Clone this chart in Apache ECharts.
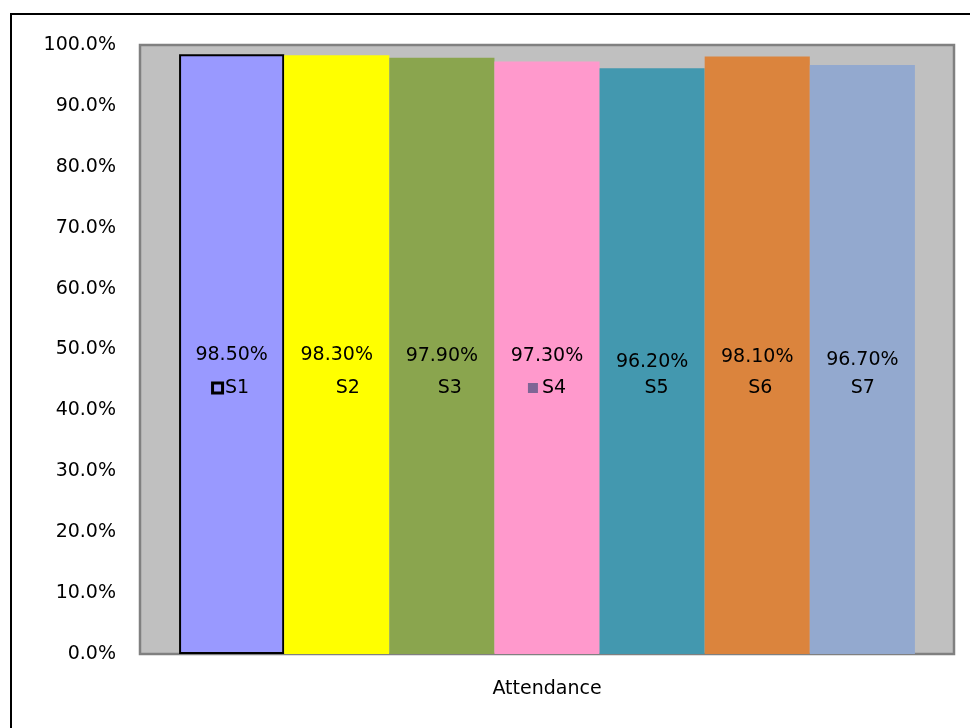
<!DOCTYPE html>
<html>
<head>
<meta charset="utf-8">
<script src="https://cdn.jsdelivr.net/npm/echarts@6/dist/echarts.min.js"></script>
<style>
html,body{margin:0;padding:0;background:#fff;}
#chart{width:970px;height:728px;}
</style>
</head>
<body>
<div id="chart"></div>
<script>
const categories = ['Attendance'];
const seriesNames = ['S1', 'S2', 'S3', 'S4', 'S5', 'S6', 'S7'];
const values = [0.985, 0.983, 0.979, 0.973, 0.962, 0.981, 0.967];
const valueLabels = ['98.50%', '98.30%', '97.90%', '97.30%', '96.20%', '98.10%', '96.70%'];

const colors = ['#9999FF', '#FFFF00', '#8AA54E', '#FF99CC', '#4398AF', '#DB843D', '#93A9CF'];
// legend-key styling inside the labels (visual styling only)
const keyFill = ['#9999FF', null, null, '#7F6595', null, null, null];
const keyBorder = ['#000000', null, null, null, null, null, null];
const spacer = [12, 22, 16, 13, 9, 6, 1];
const valueLineH = [36, 35, 34, 34, 22, 32, 26];

const FONT = 'DejaVu Sans';

const series = seriesNames.map((name, i) => {
  const hasKey = keyFill[i] !== null;
  const rich = {
    v: { fontFamily: FONT, fontSize: 19, color: '#000', lineHeight: valueLineH[i] },
    n: { fontFamily: FONT, fontSize: 19, color: '#000', lineHeight: 30 },
    k: hasKey ? {
      width: keyBorder[i] ? 7 : 10,
      height: keyBorder[i] ? 7 : 10,
      backgroundColor: keyFill[i],
      borderColor: keyBorder[i] || 'transparent',
      borderWidth: keyBorder[i] ? 3 : 0,
      lineHeight: 30
    } : { width: 0, height: 1, lineHeight: 30 },
    s: { width: hasKey ? 4 : spacer[i], height: 1, lineHeight: 30 }
  };
  return {
    name: name,
    type: 'bar',
    data: [values[i]],
    barGap: '0%',
    barCategoryGap: '9.6%',
    itemStyle: {
      color: colors[i],
      borderColor: i === 0 ? '#000' : colors[i],
      borderWidth: i === 0 ? 2 : 0
    },
    label: {
      show: true,
      position: 'insideBottom',
      distance: 251,
      align: 'center',
      formatter: () => '{v|' + valueLabels[i] + '}\n' + (hasKey ? '{k|}' : '') + '{s|}{n|' + name + '}',
      rich: rich
    }
  };
});

const chart = echarts.init(document.getElementById('chart'));
chart.setOption({
  backgroundColor: '#ffffff',
  animation: false,
  textStyle: { fontFamily: FONT },
  grid: {
    left: 140, right: 16, top: 45, bottom: 74,
    show: true,
    backgroundColor: '#C0C0C0',
    borderColor: '#808080',
    borderWidth: 2.5
  },
  xAxis: {
    type: 'category',
    data: categories,
    axisLine: { show: false },
    axisTick: { show: false },
    axisLabel: { fontFamily: FONT, fontSize: 19, color: '#000', margin: 26 },
    splitLine: { show: false }
  },
  yAxis: {
    type: 'value',
    min: 0, max: 1, interval: 0.1,
    axisLine: { show: false },
    axisTick: { show: false },
    splitLine: { show: false },
    axisLabel: {
      fontFamily: FONT, fontSize: 19, color: '#000', margin: 24,
      formatter: v => (v * 100).toFixed(1) + '%'
    }
  },
  graphic: [{
    type: 'rect',
    silent: true,
    z: 100,
    shape: { x: 11, y: 14, width: 1200, height: 1000 },
    style: { fill: 'none', stroke: '#000', lineWidth: 2 }
  }],
  series: series
});
</script>
</body>
</html>
